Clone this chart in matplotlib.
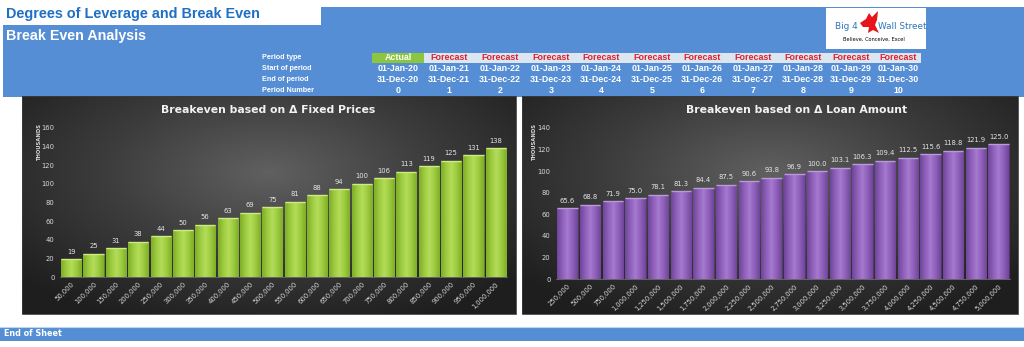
import numpy as np
import matplotlib
matplotlib.use("Agg")
import matplotlib.pyplot as plt
from matplotlib.patches import Rectangle, Polygon
from matplotlib.colors import LinearSegmentedColormap

# ---------------- data ----------------
period_labels = ["Period type", "Start of period", "End of period", "Period Number"]
period_types = ["Actual"] + ["Forecast"] * 10
start_dates = ["01-Jan-20", "01-Jan-21", "01-Jan-22", "01-Jan-23", "01-Jan-24", "01-Jan-25",
               "01-Jan-26", "01-Jan-27", "01-Jan-28", "01-Jan-29", "01-Jan-30"]
end_dates = ["31-Dec-20", "31-Dec-21", "31-Dec-22", "31-Dec-23", "31-Dec-24", "31-Dec-25",
             "31-Dec-26", "31-Dec-27", "31-Dec-28", "31-Dec-29", "31-Dec-30"]
period_numbers = [0, 1, 2, 3, 4, 5, 6, 7, 8, 9, 10]

fixed_price_labels = ["50,000", "100,000", "150,000", "200,000", "250,000", "300,000", "350,000",
                      "400,000", "450,000", "500,000", "550,000", "600,000", "650,000", "700,000",
                      "750,000", "800,000", "850,000", "900,000", "950,000", "1,000,000"]
fixed_price_breakeven = [19, 25, 31, 38, 44, 50, 56, 63, 69, 75, 81, 88, 94, 100, 106, 113,
                         119, 125, 131, 138]

loan_labels = ["250,000", "500,000", "750,000", "1,000,000", "1,250,000", "1,500,000", "1,750,000",
               "2,000,000", "2,250,000", "2,500,000", "2,750,000", "3,000,000", "3,250,000",
               "3,500,000", "3,750,000", "4,000,000", "4,250,000", "4,500,000", "4,750,000",
               "5,000,000"]
loan_breakeven = [65.6, 68.8, 71.9, 75.0, 78.1, 81.3, 84.4, 87.5, 90.6, 93.8, 96.9, 100.0,
                  103.1, 106.3, 109.4, 112.5, 115.6, 118.8, 121.9, 125.0]

# ---------------- layout helpers ----------------
W, H = 1024, 347
fig = plt.figure(figsize=(W / 100, H / 100), dpi=100)
fig.patch.set_facecolor("white")


def rect(x0, y0, x1, y1):
    return [x0 / W, 1 - y1 / H, (x1 - x0) / W, (y1 - y0) / H]


bg = fig.add_axes([0, 0, 1, 1])
bg.set_xlim(0, W)
bg.set_ylim(H, 0)
bg.axis("off")

BLUE = "#558ED5"
bold = dict(fontweight="bold", family="Liberation Sans")

# blue header band
bg.add_patch(Rectangle((3, 7), W - 3, 90, color=BLUE, lw=0))
bg.add_patch(Rectangle((0, 0), 321, 25, color="white", lw=0))
bg.text(6, 14, "Degrees of Leverage and Break Even", color="#1F6FC5", fontsize=10.4,
        va="center", ha="left", **bold)
bg.text(6, 36, "Break Even Analysis", color="white", fontsize=10.3, va="center", ha="left", **bold)

# logo
bg.add_patch(Rectangle((826, 8), 100, 41, color="white", lw=0))
bg.text(846, 26, "Big 4", color="#2E75B6", fontsize=6.4, ha="center", va="center",
        family="Liberation Sans Narrow")
bg.text(902, 26, "Wall Street", color="#2E75B6", fontsize=6.4, ha="center", va="center",
        family="Liberation Sans Narrow")
bg.text(874, 39, "Believe, Conceive, Excel", color="black", fontsize=3.6, ha="center",
        va="center", family="Liberation Sans Narrow")
eagle = Polygon([(860, 23), (866, 19), (869, 13), (872, 17), (878, 11), (877, 20), (875, 25),
                 (879, 33), (873, 30), (868, 33), (869, 27), (863, 27)], closed=True,
                color="#E8141B", lw=0)
bg.add_patch(eagle)

# period table
row_y = [57.5, 68.5, 79.5, 90.5]
col_x = [398, 449, 500, 551, 601, 652, 702, 753, 803, 851, 898]
for lab, y in zip(period_labels, row_y):
    bg.text(262, y, lab, color="white", fontsize=5.2, ha="left", va="center", **bold)
bg.add_patch(Rectangle((424, 52.5), 497, 10.5, color="#DCE6F1", lw=0))
bg.add_patch(Rectangle((372, 52.5), 52, 10.5, color="#8CC63F", lw=0))
for i, x in enumerate(col_x):
    c = "white" if period_types[i] == "Actual" else "#E2202B"
    bg.text(x, row_y[0], period_types[i], color=c, fontsize=6.4, ha="center", va="center", **bold)
    bg.text(x, row_y[1], start_dates[i], color="white", fontsize=6.4, ha="center", va="center", **bold)
    bg.text(x, row_y[2], end_dates[i], color="white", fontsize=6.4, ha="center", va="center", **bold)
    bg.text(x, row_y[3], str(period_numbers[i]), color="white", fontsize=6.4, ha="center",
            va="center", **bold)

# end of sheet bar
bg.add_patch(Rectangle((0, 327), W, 14, color=BLUE, lw=0))
bg.plot([0, W], [327, 327], color="#BDD7EE", lw=0.8)
bg.text(4, 334, "End of Sheet", color="white", fontsize=5.8, ha="left", va="center",
        family="Liberation Sans Narrow", fontweight="bold")

# chart panels with radial gradient
panel_cmap = LinearSegmentedColormap.from_list("panel", ["#606060", "#3C3C3C", "#1E1E1E"])


def panel(x0, x1, y0, y1):
    w, h = x1 - x0, y1 - y0
    xx, yy = np.meshgrid(np.linspace(-1, 1, 200), np.linspace(-1, 1, 100))
    d = np.sqrt(xx ** 2 + ((yy + 0.3) * 0.9) ** 2)
    d = np.clip(d / 1.35, 0, 1)
    bg.imshow(d, cmap=panel_cmap, extent=(x0, x1, y1, y0), aspect="auto",
              interpolation="bilinear", vmin=0, vmax=1, zorder=1)
    bg.add_patch(Rectangle((x0, y0), w, h, fill=False, ec="#3C3C3C", lw=0.6, zorder=2))


panel(22, 516, 96, 314)
panel(522, 1018, 96, 314)
bg.set_xlim(0, W)
bg.set_ylim(H, 0)


def bar_chart(axrect, labels, values, ymax, title, title_x, th_x, colors, fmt):
    ax = fig.add_axes(axrect)
    ax.patch.set_alpha(0)
    x = np.arange(len(values))
    bars = ax.bar(x, values, width=0.9, color=colors[1], edgecolor=colors[3], lw=0.5, zorder=2)
    cmap = LinearSegmentedColormap.from_list("b", [colors[2], colors[1], colors[0], colors[1], colors[2]])
    grad = np.linspace(0, 1, 64).reshape(1, -1)
    for b in bars:
        bx, by, bw, bh = b.get_x(), b.get_y(), b.get_width(), b.get_height()
        im = ax.imshow(grad, cmap=cmap, extent=(bx, bx + bw, by, by + bh), aspect="auto",
                       zorder=3, interpolation="bilinear")
        im.set_clip_path(b)
        ax.plot([bx, bx + bw], [bh, bh], color=colors[4], lw=1.0, zorder=4,
                solid_capstyle="butt")
    for xi, v in zip(x, values):
        ax.text(xi, v + ymax * 0.03, fmt(v), color="#E6E6E6", fontsize=4.9, ha="center",
                va="bottom", zorder=5)
    ax.set_xlim(-0.5, len(values) - 0.5)
    ax.set_ylim(0, ymax)
    ax.set_yticks(np.arange(0, ymax + 1, 20))
    ax.set_xticks(x)
    ax.set_xticklabels(labels, rotation=45, ha="right", rotation_mode="anchor")
    ax.tick_params(axis="both", length=0, colors="#D9D9D9", labelsize=4.9)
    ax.tick_params(axis="y", pad=4)
    ax.tick_params(axis="x", pad=3)
    for s in ["top", "right", "left"]:
        ax.spines[s].set_visible(False)
    ax.spines["bottom"].set_color("#6E6E6E")
    ax.spines["bottom"].set_linewidth(0.6)
    bg.text(title_x, 110, title, color="#F2F2F2", fontsize=7.8, ha="center", va="center",
            fontweight="bold", family="DejaVu Sans", zorder=5)
    bg.text(th_x, 124, "THOUSANDS", color="#D9D9D9", fontsize=3.8, rotation=90, ha="center",
            va="top", fontweight="bold", zorder=5)
    return ax


green = ["#B4DC5A", "#9CCB3E", "#7FAE28", "#5F8A1A", "#CDEB85"]
purple = ["#A57ACF", "#8E60BA", "#6F4698", "#4E2E72", "#B99AD9"]

bar_chart(rect(60, 128, 507, 277), fixed_price_labels, fixed_price_breakeven, 160,
          "Breakeven based on Δ Fixed Prices", 268, 40, green, lambda v: f"{v:.0f}")
bar_chart(rect(556, 128, 1010, 279), loan_labels, loan_breakeven, 140,
          "Breakeven based on Δ Loan Amount", 797, 535, purple, lambda v: f"{v:.1f}")

fig.savefig("out.png", dpi=100, facecolor="white")
